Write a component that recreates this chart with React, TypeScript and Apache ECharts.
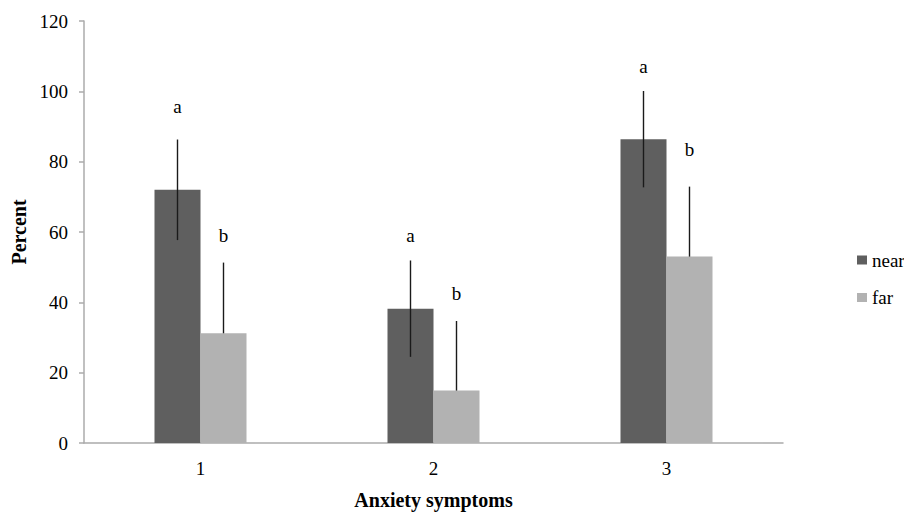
import React, { useEffect, useRef } from "react";
import * as echarts from "echarts";

const categories = ["1", "2", "3"];
const nearValues = [72, 38.2, 86.4];
const farValues = [31.2, 14.9, 53.0];
const nearErrors = [14.3, 13.7, 13.7];
const farErrors = [20.1, 19.8, 19.9];
const nearLetters = ["a", "a", "a"];
const farLetters = ["b", "b", "b"];
const nearLetterY = [95.6, 59.1, 107.2];
const farLetterY = [58.9, 42.5, 83.6];
const yTicks = [0, 20, 40, 60, 80, 100, 120];

const FONT = "Liberation Serif";
const BAR_W = 46;

export default function App() {
  const ref = useRef<HTMLDivElement>(null);
  useEffect(() => {
    if (!ref.current) return;
    const chart = echarts.init(ref.current, null, { renderer: "svg" });

    const errData = (vals: number[], errs: number[], both: boolean) =>
      vals.map((v, i) => [i, both ? v - errs[i] : v, v + errs[i]]);

    const errSeries = (name: string, data: number[][], off: number) => ({
      type: "custom",
      name,
      z: 5,
      silent: true,
      data,
      encode: { x: 0, y: [1, 2] },
      renderItem: (params: any, api: any) => {
        const p1 = api.coord([api.value(0), api.value(1)]);
        const p2 = api.coord([api.value(0), api.value(2)]);
        return {
          type: "line",
          shape: { x1: p1[0] + off, y1: p1[1], x2: p2[0] + off, y2: p2[1] },
          style: { stroke: "#1a1a1a", lineWidth: 1.4 },
        };
      },
    });

    const letterSeries = (name: string, letters: string[], ys: number[], off: number) => ({
      type: "custom",
      name,
      z: 5,
      silent: true,
      data: ys.map((y, i) => [i, y]),
      encode: { x: 0, y: 1 },
      renderItem: (params: any, api: any) => {
        const p = api.coord([api.value(0), api.value(1)]);
        return {
          type: "text",
          x: p[0] + off,
          y: p[1],
          style: {
            text: letters[params.dataIndex],
            fontSize: 19,
            fontFamily: FONT,
            fill: "#000",
            align: "center",
            verticalAlign: "middle",
          },
        };
      },
    });

    chart.setOption({
      animation: false,
      backgroundColor: "#fff",
      textStyle: { fontFamily: FONT, color: "#000" },
      grid: { left: 84, top: 21, width: 699, height: 428, containLabel: false },
      legend: {
        data: ["near", "far"],
        orient: "vertical",
        left: 852,
        top: 245,
        itemWidth: 10,
        itemHeight: 9,
        itemGap: 17.5,
        icon: "rect",
        textStyle: { fontFamily: FONT, fontSize: 19, lineHeight: 20, color: "#000" },
      },
      xAxis: {
        type: "category",
        data: categories,
        name: "Anxiety symptoms",
        nameLocation: "middle",
        nameGap: 47,
        nameTextStyle: { fontFamily: FONT, fontSize: 20, fontWeight: "bold", color: "#000" },
        axisLine: { lineStyle: { color: "#ababab", width: 1.5 } },
        axisTick: { show: false },
        axisLabel: { fontFamily: FONT, fontSize: 19, color: "#000", margin: 16 },
      },
      yAxis: {
        type: "value",
        min: yTicks[0],
        max: yTicks[yTicks.length - 1],
        interval: 20,
        name: "Percent",
        nameLocation: "middle",
        nameGap: 55.5,
        nameTextStyle: { fontFamily: FONT, fontSize: 20, fontWeight: "bold", color: "#000" },
        axisLine: { show: true, lineStyle: { color: "#ababab", width: 1.5 } },
        axisTick: { show: true, length: 5, lineStyle: { color: "#ababab", width: 1.5 } },
        axisLabel: { fontFamily: FONT, fontSize: 19, color: "#000", margin: 16 },
        splitLine: { show: false },
      },
      series: [
        {
          type: "bar",
          name: "near",
          data: nearValues,
          barWidth: BAR_W,
          barGap: "0%",
          itemStyle: { color: "#5f5f5f" },
        },
        {
          type: "bar",
          name: "far",
          data: farValues,
          barWidth: BAR_W,
          barGap: "0%",
          itemStyle: { color: "#b2b2b2" },
        },
        errSeries("nearErr", errData(nearValues, nearErrors, true), -BAR_W / 2),
        errSeries("farErr", errData(farValues, farErrors, false), BAR_W / 2),
        letterSeries("nearLetters", nearLetters, nearLetterY, -BAR_W / 2),
        letterSeries("farLetters", farLetters, farLetterY, BAR_W / 2),
      ],
    });
    return () => chart.dispose();
  }, []);
  return (
    <div
      ref={ref}
      style={{ position: "fixed", left: 0, top: 0, width: 904, height: 515, background: "#fff" }}
    />
  );
}
